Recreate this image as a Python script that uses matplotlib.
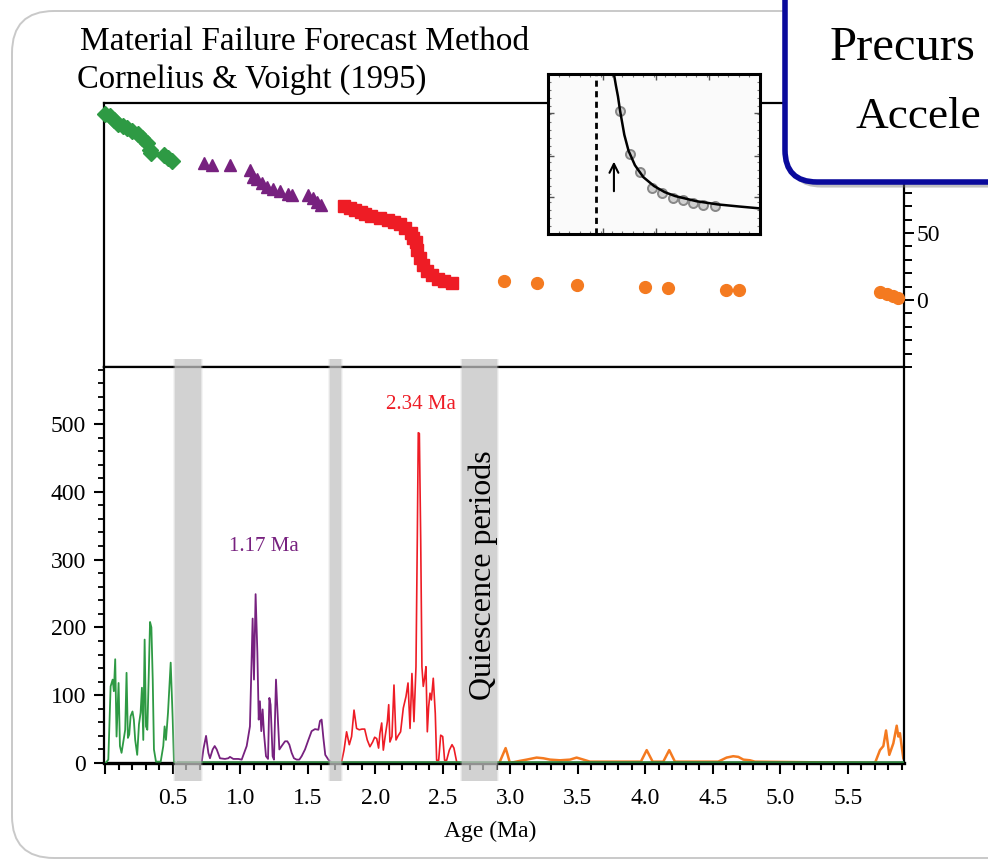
import numpy as np
import matplotlib
matplotlib.use('Agg')
import matplotlib.pyplot as plt
from matplotlib.patches import FancyBboxPatch, Rectangle
from matplotlib.ticker import MultipleLocator
import matplotlib.patheffects as pe

plt.rcParams['font.family'] = ['Liberation Serif', 'DejaVu Serif']

# ---------------- data: top panel (cumulative / forecast points) ----------------
green_top_x = [0.00, 0.03, 0.06, 0.09, 0.13, 0.16, 0.20, 0.24, 0.27, 0.31, 0.33, 0.34, 0.43, 0.46, 0.49]
green_top_y = [139, 137, 134, 131, 130, 128, 126, 124, 121, 117, 112, 110, 108, 106, 104]

purple_top_x = [0.73, 0.79, 0.92, 1.07, 1.09, 1.12, 1.16, 1.20, 1.24, 1.29, 1.35, 1.38, 1.50, 1.54, 1.57, 1.60]
purple_top_y = [102, 101, 101, 97, 92, 90, 87, 84, 83, 81, 79, 78, 78, 76, 73, 71]

red_top_x = [1.77, 1.81, 1.85, 1.89, 1.92, 1.97, 2.03, 2.09, 2.14, 2.18, 2.22, 2.26, 2.28, 2.30,
             2.31, 2.33, 2.35, 2.38, 2.42, 2.46, 2.51, 2.57]
red_top_y = [70, 69, 67, 66, 64, 63, 61, 60, 58, 57, 54, 50, 46, 43, 37, 31, 26, 22, 19, 16, 14, 13]

orange_top_x = [2.95, 3.20, 3.49, 4.00, 4.17, 4.60, 4.69, 5.74, 5.79, 5.83, 5.87]
orange_top_y = [14, 13, 11, 10, 9, 7.5, 7.5, 6, 4.5, 3, 1.5]

# ---------------- data: bottom panel (rate series) ----------------
green_x = [0.001, 0.021, 0.038, 0.053, 0.062, 0.072, 0.082, 0.097, 0.107, 0.119, 0.131, 0.146, 0.156,
           0.166, 0.176, 0.186, 0.200, 0.210, 0.220, 0.235, 0.248, 0.260, 0.270, 0.280, 0.290, 0.300,
           0.310, 0.320, 0.330, 0.340, 0.350, 0.359, 0.374, 0.391, 0.409, 0.428, 0.438, 0.448, 0.463,
           0.483, 0.498, 0.507, 0.527]
green_y = [0, 5, 113, 123, 106, 153, 39, 118, 25, 15, 30, 49, 133, 37, 42, 69, 76, 64, 34, 12, 57,
           74, 111, 34, 182, 54, 49, 126, 208, 200, 123, 20, 2, 2, 2, 25, 54, 34, 74, 148, 64, 2, 0]
green_base_x = [0.527, 5.915]
green_base_y = [0, 0]

purple_x = [0.0, 0.712, 0.725, 0.745, 0.762, 0.774, 0.794, 0.809, 0.824, 0.848, 0.885, 0.910, 0.922,
            0.947, 0.984, 1.009, 1.046, 1.070, 1.090, 1.100, 1.112, 1.125, 1.135, 1.144, 1.154, 1.164,
            1.174, 1.189, 1.204, 1.214, 1.223, 1.238, 1.248, 1.263, 1.273, 1.288, 1.305, 1.330, 1.347,
            1.362, 1.379, 1.396, 1.416, 1.436, 1.453, 1.478, 1.503, 1.527, 1.552, 1.577, 1.589, 1.601,
            1.614, 1.628, 1.651, 1.668]
purple_y = [0, 0, 20, 40, 15, 7, 20, 25, 20, 7, 6, 7, 9, 6, 6, 5, 25, 54, 213, 123, 249, 163, 64, 91,
            47, 79, 44, 10, 6, 96, 86, 10, 5, 123, 81, 20, 25, 32, 32, 27, 15, 7, 5, 5, 10, 20, 34, 47,
            50, 49, 62, 64, 37, 12, 5, 2]

red_x = [1.749, 1.767, 1.786, 1.806, 1.823, 1.841, 1.860, 1.880, 1.900, 1.920, 1.939, 1.959, 1.979,
         1.994, 2.009, 2.023, 2.033, 2.046, 2.058, 2.073, 2.088, 2.098, 2.107, 2.122, 2.137, 2.152,
         2.167, 2.186, 2.206, 2.226, 2.241, 2.256, 2.270, 2.285, 2.300, 2.310, 2.317, 2.325, 2.335,
         2.344, 2.354, 2.364, 2.374, 2.384, 2.394, 2.404, 2.414, 2.428, 2.443, 2.453, 2.468, 2.483,
         2.498, 2.512, 2.527, 2.547, 2.567, 2.581, 2.601]
red_y = [2, 19, 46, 27, 39, 78, 51, 49, 50, 50, 34, 24, 31, 38, 36, 22, 44, 59, 19, 41, 61, 86, 31,
         39, 115, 34, 40, 46, 81, 98, 118, 51, 132, 61, 142, 334, 487, 486, 329, 142, 113, 125, 142,
         46, 83, 103, 93, 125, 73, 4, 4, 41, 39, 4, 4, 19, 27, 22, 2]

orange_x = [2.917, 2.947, 2.964, 2.979, 2.996, 3.066, 3.120, 3.194, 3.243, 3.293, 3.367, 3.441, 3.490,
            3.540, 3.589, 3.966, 4.009, 4.053, 4.132, 4.176, 4.218, 4.539, 4.601, 4.650, 4.688, 4.725,
            4.774, 4.811, 5.700, 5.737, 5.762, 5.782, 5.806, 5.836, 5.861, 5.873, 5.885, 5.898, 5.910]
orange_y = [0, 14, 22, 12, 0, 3, 5, 8, 7, 5, 4, 5, 8, 5, 2, 2, 19, 2, 2, 19, 2, 2, 8, 10, 9, 5,
            4, 2, 0, 19, 25, 48, 12, 29, 55, 39, 44, 24, 7]

quiescence_start = [0.515, 1.663, 2.640]
quiescence_end = [0.707, 1.744, 2.900]

x_major = [0, 0.5, 1.0, 1.5, 2.0, 2.5, 3.0, 3.5, 4.0, 4.5, 5.0, 5.5]
x_labels = ['', '0.5', '1.0', '1.5', '2.0', '2.5', '3.0', '3.5', '4.0', '4.5', '5.0', '5.5']
y_major = [0, 100, 200, 300, 400, 500]
top_y_major = [0, 50, 100]

# inset (schematic failure-forecast curve), in inset fraction units
inset_curve_x = [0.311, 0.32, 0.33, 0.34, 0.36, 0.38, 0.41, 0.45, 0.50, 0.55, 0.60, 0.70, 0.80, 0.90, 1.00]
inset_curve_y = [1.00, 0.93, 0.86, 0.77, 0.62, 0.52, 0.43, 0.355, 0.30, 0.262, 0.237, 0.205, 0.185, 0.172, 0.16]
inset_pts_x = [0.340, 0.387, 0.434, 0.491, 0.538, 0.590, 0.637, 0.684, 0.731, 0.788]
inset_pts_y = [0.770, 0.500, 0.385, 0.290, 0.258, 0.228, 0.214, 0.196, 0.184, 0.177]

GREEN = '#2e9a44'
GREEN_DARK = '#2a7d3a'
PURPLE = '#77217f'
RED = '#ee1c25'
ORANGE = '#f47a20'

W, H = 988, 860
fig = plt.figure(figsize=(W / 100, H / 100), dpi=100)
fig.patch.set_facecolor('white')

def fx(px):
    return px / W

def fy(py):
    return 1 - py / H

# outer card
card = FancyBboxPatch((0.12, 0.02), 10.9, 8.47, boxstyle='round,pad=0,rounding_size=0.42',
                      transform=fig.dpi_scale_trans, facecolor='white', edgecolor='#c9c9c9',
                      linewidth=1.4, zorder=-5)
fig.patches.append(card)

XL = (-0.011, 5.915)
left, right = 104, 904
ax_top = fig.add_axes([fx(left), fy(367), fx(right) - fx(left), fy(103) - fy(367)])
ax_bot = fig.add_axes([fx(left), fy(763), fx(right) - fx(left), fy(367) - fy(763)])

# ---- top panel ----
ax_top.set_xlim(*XL)
ax_top.set_ylim(-50, 147)
ax_top.plot(green_top_x, green_top_y, 'D', color=GREEN, ms=8, mec=GREEN, clip_on=False, zorder=3)
ax_top.plot(purple_top_x, purple_top_y, '^', color=PURPLE, ms=9, mec=PURPLE, clip_on=False, zorder=3)
ax_top.plot(red_top_x, red_top_y, 's', color=RED, ms=9, mec=RED, clip_on=False, zorder=3)
ax_top.plot(orange_top_x, orange_top_y, 'o', color=ORANGE, ms=8.5, mec=ORANGE, clip_on=False, zorder=3)
ax_top.set_xticks([])
ax_top.yaxis.tick_right()
ax_top.set_yticks(top_y_major)
ax_top.yaxis.set_minor_locator(MultipleLocator(10))
ax_top.tick_params(axis='y', which='major', direction='out', length=7, width=1.4, labelsize=17, pad=2)
ax_top.tick_params(axis='y', which='minor', direction='out', length=6, width=1.4)
for s in ax_top.spines.values():
    s.set_linewidth(1.6)
ax_top.patch.set_alpha(0)

# ---- bottom panel ----
ax_bot.set_xlim(*XL)
ax_bot.set_ylim(0, 584)
ax_bot.plot(purple_x, purple_y, color=PURPLE, lw=1.3, zorder=2)
ax_bot.plot(red_x, red_y, color=RED, lw=1.2, zorder=2)
ax_bot.plot(orange_x, orange_y, color=ORANGE, lw=1.8, zorder=2)
ax_bot.plot(green_x, green_y, color=GREEN, lw=1.3, zorder=3)
ax_bot.plot(green_base_x, green_base_y, color=GREEN_DARK, lw=2.6, zorder=3, solid_capstyle='butt')

for xs, xe in zip(quiescence_start, quiescence_end):
    for k, (pad, a) in enumerate([(0.012, 0.18), (0.006, 0.3), (0.0, 0.55)]):
        r = Rectangle((xs - pad, -0.045), xe - xs + 2 * pad, 1.065, transform=ax_bot.get_xaxis_transform(),
                      facecolor='#c4c4c4', edgecolor='none', alpha=a, clip_on=False, zorder=5)
        ax_bot.add_patch(r)

ax_bot.set_xticks(x_major)
ax_bot.set_xticklabels(x_labels)
ax_bot.xaxis.set_minor_locator(MultipleLocator(0.1))
ax_bot.set_yticks(y_major)
ax_bot.yaxis.set_minor_locator(MultipleLocator(20))
ax_bot.tick_params(axis='x', which='major', direction='out', length=8, width=1.5, labelsize=17, pad=10)
ax_bot.tick_params(axis='x', which='minor', direction='out', length=5, width=1.5)
ax_bot.tick_params(axis='y', which='major', direction='out', length=7, width=1.5, labelsize=17, pad=6)
ax_bot.tick_params(axis='y', which='minor', direction='out', length=4, width=1.3)
for s in ax_bot.spines.values():
    s.set_linewidth(1.6)
ax_bot.spines['bottom'].set_linewidth(2.4)
fig.text(fx(490), fy(831), 'Age (Ma)', fontsize=17, ha='center', va='center')

ax_bot.text(1.17, 320, '1.17 Ma', color=PURPLE, fontsize=15, ha='center', va='center')
ax_bot.text(2.34, 529, '2.34 Ma', color=RED, fontsize=15, ha='center', va='center')
ax_bot.text(2.796, 277, 'Quiescence periods', color='black', fontsize=23, rotation=90,
            ha='center', va='center', zorder=6)

# ---- inset ----
axi = fig.add_axes([fx(548), fy(234), fx(760) - fx(548), fy(74) - fy(234)])
axi.set_facecolor('#fafafa')
axi.set_xlim(0, 1)
axi.set_ylim(0, 1)
axi.axvline(0.226, color='black', lw=2, ls=(0, (2.2, 1.6)))
axi.plot(inset_pts_x, inset_pts_y, 'o', mfc='#d0d0d0', mec='#888888', ms=6.5, mew=1.4)
axi.plot(inset_curve_x, inset_curve_y, color='black', lw=1.8)
axi.annotate('', xy=(0.311, 0.47), xytext=(0.311, 0.25),
             arrowprops=dict(arrowstyle='->', color='black', lw=1.5, mutation_scale=16))
axi.set_xticks([0.26, 0.51, 0.76])
axi.set_yticks([0.231, 0.4875, 0.756])
axi.xaxis.set_minor_locator(MultipleLocator(0.05))
axi.yaxis.set_minor_locator(MultipleLocator(0.05))
axi.tick_params(which='both', direction='in', top=True, right=True, labelbottom=False, labelleft=False)
axi.tick_params(which='major', length=4, width=1, color='#555555')
axi.tick_params(which='minor', length=2, width=0.8, color='#777777')
for s in axi.spines.values():
    s.set_linewidth(2.2)

# ---- title ----
fig.text(fx(80), fy(42), 'Material Failure Forecast Method', fontsize=24, ha='left', va='center')
fig.text(fx(77), fy(80), 'Cornelius & Voight (1995)', fontsize=23.5, ha='left', va='center')

# ---- blue callout box (cut off at the right edge) ----
box = FancyBboxPatch((7.85, 6.78), 3.2, 2.6, boxstyle='round,pad=0,rounding_size=0.32',
                     transform=fig.dpi_scale_trans, facecolor='white', edgecolor='#0a0a9c',
                     linewidth=4.0, zorder=10,
                     path_effects=[pe.SimplePatchShadow(offset=(3, -4), shadow_rgbFace='#777777', alpha=0.45),
                                   pe.Normal()])
fig.patches.append(box)
fig.text(fx(830), fy(48), 'Precurs', fontsize=35, ha='left', va='center', zorder=11)
fig.text(fx(855), fy(117), 'Accele', fontsize=32.5, ha='left', va='center', zorder=11)

fig.savefig('out.png', dpi=100, facecolor='white')
